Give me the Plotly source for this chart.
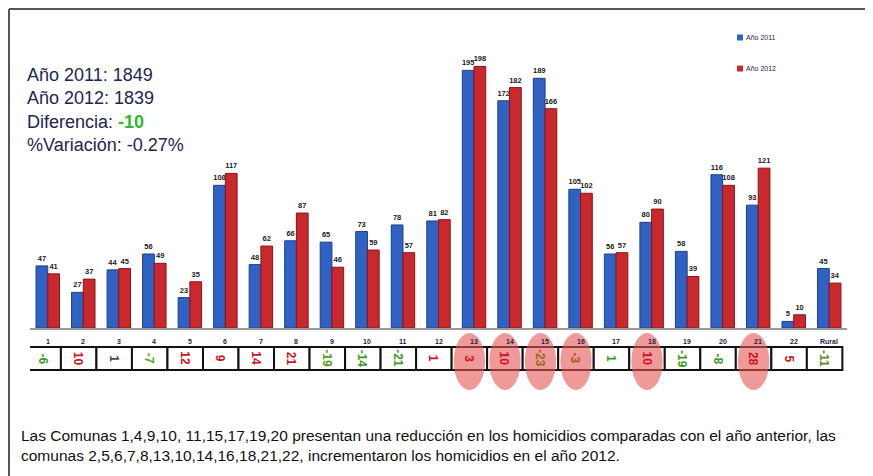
import plotly.graph_objects as go

# Datos: homicidios por comuna
comunas = ["1", "2", "3", "4", "5", "6", "7", "8", "9", "10", "11", "12",
           "13", "14", "15", "16", "17", "18", "19", "20", "21", "22", "Rural"]
anio_2011 = [47, 27, 44, 56, 23, 108, 48, 66, 65, 73, 78, 81,
             195, 172, 189, 105, 56, 80, 58, 116, 93, 5, 45]
anio_2012 = [41, 37, 45, 49, 35, 117, 62, 87, 46, 59, 57, 82,
             198, 182, 166, 102, 57, 90, 39, 108, 121, 10, 34]
color_dif = ["#3a9a1f", "#d0121b", "#3c4a6a", "#5aa51c", "#d0121b", "#d0121b",
             "#d0121b", "#d0121b", "#4f9d18", "#3a9a1f", "#3a9a1f", "#d0121b",
             "#d0121b", "#d0121b", "#9a6a10", "#b5501a", "#3a9a1f", "#d0121b",
             "#3a9a1f", "#3a9a1f", "#d0121b", "#d0121b", "#5a8a20"]
resaltadas = ["13", "14", "15", "16", "18", "21"]
resumen = ["Año 2011: 1849", "Año 2012: 1839", "Diferencia: ", "%Variación: -0.27%"]
diferencia_total = "-10"

diferencias = [b - a for a, b in zip(anio_2011, anio_2012)]
idx = list(range(len(comunas)))
fuente = "Liberation Sans"

fig = go.Figure()
fig.add_trace(go.Bar(
    x=idx, y=anio_2011, name="Año 2011",
    marker=dict(color="#3062c4", line=dict(color="#1c3f8c", width=1)),
    text=anio_2011, textposition="outside", constraintext="none",
    textfont=dict(size=7.5, color="#1a1a1a", family=fuente, weight="bold"),
    cliponaxis=False,
))
fig.add_trace(go.Bar(
    x=idx, y=anio_2012, name="Año 2012",
    marker=dict(color="#c9282c", line=dict(color="#8a1518", width=1)),
    text=anio_2012, textposition="outside", constraintext="none",
    textfont=dict(size=7.5, color="#1a1a1a", family=fuente, weight="bold"),
    cliponaxis=False,
))

shapes = []
annotations = []

# tabla de diferencias (ligeramente desplazada a la izquierda, como en el original)
d = -0.13
for i, c in enumerate(comunas):
    shapes.append(dict(type="rect", xref="x", yref="paper",
                       x0=i + d - 0.5, x1=i + d + 0.5, y0=-0.1458, y1=-0.066,
                       line=dict(color="#111111", width=2), fillcolor="white",
                       layer="above"))
    annotations.append(dict(x=i, y=-0.0486, xref="x", yref="paper", text=c,
                            showarrow=False, xanchor="center", yanchor="middle",
                            font=dict(size=7, color="#1c2650", family=fuente, weight="bold")))

for c in resaltadas:
    i = comunas.index(c)
    shapes.append(dict(type="circle", xref="x", yref="paper",
                       x0=i + d - 0.44, x1=i + d + 0.44, y0=-0.2153, y1=-0.0174,
                       line=dict(width=0), fillcolor="rgba(228,85,85,0.6)",
                       layer="above"))

for i, c in enumerate(comunas):
    annotations.append(dict(x=i + d, y=-0.106, xref="x", yref="paper",
                            text="<b>%d</b>" % diferencias[i], textangle=90,
                            showarrow=False, xanchor="center", yanchor="middle",
                            font=dict(size=12, color=color_dif[i], family=fuente)))

# marco
shapes.append(dict(type="line", xref="paper", yref="paper", x0=-0.0257, x1=1.06,
                   y0=1.1076, y1=1.1076, line=dict(color="#555555", width=2)))
shapes.append(dict(type="line", xref="paper", yref="paper", x0=-0.0257, x1=-0.0257,
                   y0=1.1076, y1=-0.52, line=dict(color="#555555", width=2)))
shapes.append(dict(type="line", xref="paper", yref="paper", x0=1.0233, x1=1.0233,
                   y0=1.059, y1=-0.25, line=dict(color="#cccccc", width=1)))

# leyenda
for nombre, col, yc in [("Año 2011", "#3062c4", 1.0087), ("Año 2012", "#c9282c", 0.901)]:
    shapes.append(dict(type="rect", xref="paper", yref="paper",
                       x0=0.8654, x1=0.8727, y0=yc - 0.0104, y1=yc + 0.0104,
                       fillcolor=col, line=dict(width=0)))
    annotations.append(dict(x=0.8745, y=yc, xref="paper", yref="paper", text=nombre,
                            xanchor="left", yanchor="middle", showarrow=False,
                            font=dict(size=7, color="#1c2650", family=fuente)))

# resumen
texto = "<br>".join([
    resumen[0], resumen[1],
    resumen[2] + '<span style="color:#2db82d"><b>' + diferencia_total + "</b></span>",
    resumen[3],
])
annotations.append(dict(x=-0.0061, y=0.92, xref="paper", yref="paper", text=texto,
                        xanchor="left", yanchor="top", align="left", showarrow=False,
                        font=dict(size=18, color="#1c2650", family=fuente)))

# nota inferior
nota = ("Las Comunas 1,4,9,10, 11,15,17,19,20 presentan una reducción en los homicidios "
        "comparadas con el año anterior, las<br>comunas 2,5,6,7,8,13,10,14,16,18,21,22, "
        "incrementaron los homicidios en el año 2012.")
annotations.append(dict(x=-0.0135, y=-0.4097, xref="paper", yref="paper", text=nota,
                        xanchor="left", yanchor="middle", align="left", showarrow=False,
                        font=dict(size=15.5, color="#111111", family=fuente)))

# la página añade 8 px de margen al cuerpo; se compensa aquí
fig.update_layout(
    width=873, height=476,
    margin=dict(l=22, r=34, t=32, b=156),
    paper_bgcolor="white", plot_bgcolor="white",
    barmode="group", bargap=0.34, bargroupgap=0,
    showlegend=False,
    xaxis=dict(range=[-0.5, 22.5], showticklabels=False, showgrid=False,
               zeroline=False, showline=True, linecolor="#9a9a9a", linewidth=1.5),
    yaxis=dict(range=[0, 218], visible=False),
    shapes=shapes, annotations=annotations,
)

fig.write_html("out.html")
